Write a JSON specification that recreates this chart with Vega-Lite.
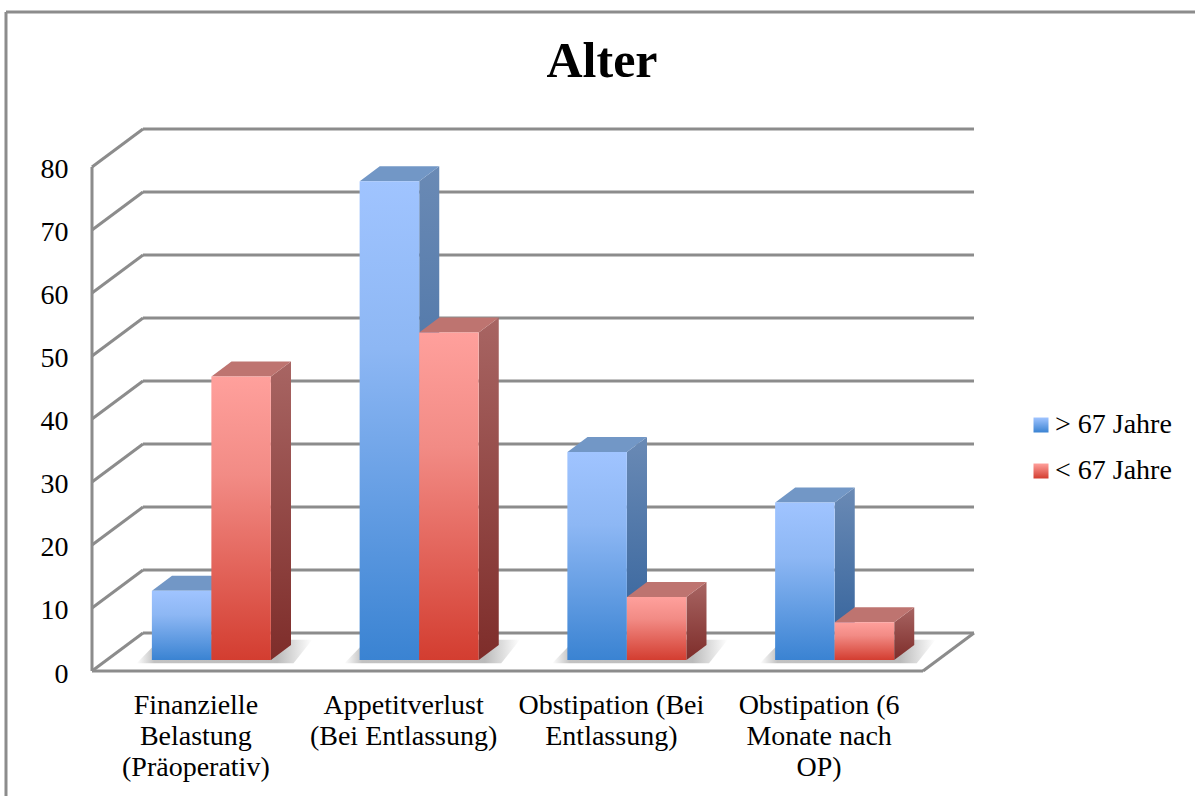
{
"$schema":"https://vega.github.io/schema/vega-lite/v6.json",
"width":882,"height":542,"autosize":{"type":"none"},
"padding":{"left":92,"top":129,"right":221,"bottom":125},
"background":"white",
"config":{"view":{"stroke":null},"font":"Liberation Serif"},
"title":{"text":"Alter","font":"Liberation Serif","fontSize":50,"fontWeight":"bold","color":"black","anchor":"middle","frame":"group","dx":69,"offset":-76},
"datasets":{
"bars":[
{"category":"Finanzielle Belastung (Präoperativ)","series":"> 67 Jahre","value":11},
{"category":"Appetitverlust (Bei Entlassung)","series":"> 67 Jahre","value":76},
{"category":"Obstipation (Bei Entlassung)","series":"> 67 Jahre","value":33},
{"category":"Obstipation (6 Monate nach OP)","series":"> 67 Jahre","value":25},
{"category":"Finanzielle Belastung (Präoperativ)","series":"< 67 Jahre","value":45},
{"category":"Appetitverlust (Bei Entlassung)","series":"< 67 Jahre","value":52},
{"category":"Obstipation (Bei Entlassung)","series":"< 67 Jahre","value":10},
{"category":"Obstipation (6 Monate nach OP)","series":"< 67 Jahre","value":6}
],
"ticks":[{"tick":0},{"tick":10},{"tick":20},{"tick":30},{"tick":40},{"tick":50},{"tick":60},{"tick":70},{"tick":80}],
"cats":[{"i":0},{"i":1},{"i":2},{"i":3}]
},
"resolve":{"scale":{"x":"independent","y":"independent","color":"independent","opacity":"independent"},"axis":{"x":"independent","y":"independent"}},
"layer":[
{"data":{"name":"ticks"},"transform":[{"calculate":"datum.tick+6.03","as":"back"}],"mark":{"type":"rule","stroke":"#8c8c8c","strokeWidth":3},
 "encoding":{"x":{"datum":0,"type":"quantitative","scale":{"domain":[0,4.2455],"nice":false,"zero":false},"axis":null},"x2":{"datum":0.2455},
 "y":{"field":"tick","type":"quantitative","scale":{"domain":[0,86.03],"nice":false,"zero":false},"axis":{"values":[0,10,20,30,40,50,60,70,80],"title":null,"domain":false,"ticks":false,"grid":false,"labelFontSize":28,"labelColor":"black","labelPadding":24,"labelOffset":3,"labelFont":"Liberation Serif"}},"y2":{"field":"back"}}},
{"layer":[
{"data":{"name":"ticks"},"transform":[{"calculate":"datum.tick+6.03","as":"back"}],"mark":{"type":"rule","stroke":"#8c8c8c","strokeWidth":3},
 "encoding":{"x":{"datum":0.2455,"type":"quantitative","scale":{"domain":[0,4.2455],"nice":false,"zero":false},"axis":null},"x2":{"datum":4.2455},
 "y":{"field":"back","type":"quantitative","scale":{"domain":[0,86.03],"nice":false,"zero":false},"axis":null}}},
{"data":{"values":[{"a":0}]},"mark":{"type":"rule","stroke":"#8c8c8c","strokeWidth":3},
 "encoding":{"x":{"datum":0,"type":"quantitative","scale":{"domain":[0,4.2455],"nice":false,"zero":false},"axis":null},
 "y":{"datum":0,"type":"quantitative","scale":{"domain":[0,86.03],"nice":false,"zero":false},"axis":null},"y2":{"datum":80}}},
{"data":{"values":[{"a":0}]},"mark":{"type":"rule","stroke":"#8c8c8c","strokeWidth":3},
 "encoding":{"x":{"datum":0,"type":"quantitative","scale":{"domain":[0,4.2455],"nice":false,"zero":false},"axis":null},"x2":{"datum":4},
 "y":{"datum":0,"type":"quantitative","scale":{"domain":[0,86.03],"nice":false,"zero":false},"axis":null}}},
{"data":{"values":[{"a":0}]},"mark":{"type":"rule","stroke":"#8c8c8c","strokeWidth":3},
 "encoding":{"x":{"datum":4,"type":"quantitative","scale":{"domain":[0,4.2455],"nice":false,"zero":false},"axis":null},"x2":{"datum":4.2455},
 "y":{"datum":0,"type":"quantitative","scale":{"domain":[0,86.03],"nice":false,"zero":false},"axis":null},"y2":{"datum":6.03}}},
{"data":{"values":[{"a":0}]},"mark":{"type":"rule","stroke":"#8c8c8c","strokeWidth":3,"clip":false},
 "encoding":{"x":{"datum":-0.414,"type":"quantitative","scale":{"domain":[0,4.2455],"nice":false,"zero":false},"axis":null},
 "y":{"datum":104.6,"type":"quantitative","scale":{"domain":[0,86.03],"nice":false,"zero":false},"axis":null},"y2":{"datum":-19.84}}},
{"data":{"values":[{"a":0}]},"mark":{"type":"rule","stroke":"#8c8c8c","strokeWidth":3,"clip":false},
 "encoding":{"x":{"datum":-0.414,"type":"quantitative","scale":{"domain":[0,4.2455],"nice":false,"zero":false},"axis":null},"x2":{"datum":5.31},
 "y":{"datum":104.6,"type":"quantitative","scale":{"domain":[0,86.03],"nice":false,"zero":false},"axis":null}}},
{"data":{"name":"cats"},"transform":[{"calculate":"[0,1]","as":"corner"},{"flatten":["corner"]},{"calculate":"datum.i+0.215+datum.corner*0.11","as":"sx"},{"calculate":"datum.i+0.97+datum.corner*0.09","as":"sx2"},{"calculate":"1.25+datum.corner*3.7","as":"sy"}],
 "mark":{"type":"area","orient":"horizontal","fill":{"gradient":"linear","x1":0,"y1":0,"x2":1,"y2":0,"stops":[{"offset":0,"color":"rgba(120,120,120,0)"},{"offset":0.1,"color":"rgba(120,120,120,0.45)"},{"offset":0.8,"color":"rgba(120,120,120,0.5)"},{"offset":1,"color":"rgba(120,120,120,0)"}]}},
 "encoding":{"y":{"field":"sy","type":"quantitative","scale":{"domain":[0,86.03],"nice":false,"zero":false},"axis":null},
 "x":{"field":"sx","type":"quantitative","scale":{"domain":[0,4.2455],"nice":false,"zero":false},"axis":null},"x2":{"field":"sx2"},"detail":{"field":"i"}}},
{"data":{"name":"bars"},"transform":[{"filter":"datum.series=='> 67 Jahre'"},{"calculate":"[0,1]","as":"corner"},{"flatten":["corner"]},
 {"calculate":"indexof(['Finanzielle Belastung (Präoperativ)','Appetitverlust (Bei Entlassung)','Obstipation (Bei Entlassung)','Obstipation (6 Monate nach OP)'],datum.category)+0.2888","as":"left"},
 {"calculate":"datum.left+0.2864+datum.corner*0.0963","as":"rx"},{"calculate":"datum.left+datum.corner*0.0963","as":"lx"},
 {"calculate":"datum.value+1.746+datum.corner*2.38","as":"ty"},{"calculate":"1.746+datum.corner*2.38","as":"by"}],
 "layer":[
 {"mark":{"type":"area","orient":"vertical","fill":{"gradient":"linear","x1":0,"y1":0,"x2":0,"y2":1,"stops":[{"offset":0,"color":"#6a8ab5"},{"offset":1,"color":"#2f5f99"}]}},
 "encoding":{"x":{"field":"rx","type":"quantitative","scale":{"domain":[0,4.2455],"nice":false,"zero":false},"axis":null},"y":{"field":"ty","type":"quantitative","scale":{"domain":[0,86.03],"nice":false,"zero":false},"axis":null},"y2":{"field":"by"},"detail":{"field":"category"}}},
 {"mark":{"type":"area","orient":"horizontal","fill":"#7297c6"},
 "encoding":{"y":{"field":"ty","type":"quantitative","scale":{"domain":[0,86.03],"nice":false,"zero":false},"axis":null},"x":{"field":"lx","type":"quantitative","scale":{"domain":[0,4.2455],"nice":false,"zero":false},"axis":null},"x2":{"field":"rx"},"detail":{"field":"category"}}}
 ]},
{"data":{"name":"bars"},"transform":[{"filter":"datum.series=='< 67 Jahre'"},{"calculate":"[0,1]","as":"corner"},{"flatten":["corner"]},
 {"calculate":"indexof(['Finanzielle Belastung (Präoperativ)','Appetitverlust (Bei Entlassung)','Obstipation (Bei Entlassung)','Obstipation (6 Monate nach OP)'],datum.category)+0.5752","as":"left"},
 {"calculate":"datum.left+0.2864+datum.corner*0.0963","as":"rx"},{"calculate":"datum.left+datum.corner*0.0963","as":"lx"},
 {"calculate":"datum.value+1.746+datum.corner*2.38","as":"ty"},{"calculate":"1.746+datum.corner*2.38","as":"by"}],
 "layer":[
 {"mark":{"type":"area","orient":"vertical","fill":{"gradient":"linear","x1":0,"y1":0,"x2":0,"y2":1,"stops":[{"offset":0,"color":"#a86563"},{"offset":1,"color":"#7e2d2a"}]}},
 "encoding":{"x":{"field":"rx","type":"quantitative","scale":{"domain":[0,4.2455],"nice":false,"zero":false},"axis":null},"y":{"field":"ty","type":"quantitative","scale":{"domain":[0,86.03],"nice":false,"zero":false},"axis":null},"y2":{"field":"by"},"detail":{"field":"category"}}},
 {"mark":{"type":"area","orient":"horizontal","fill":"#be7470"},
 "encoding":{"y":{"field":"ty","type":"quantitative","scale":{"domain":[0,86.03],"nice":false,"zero":false},"axis":null},"x":{"field":"lx","type":"quantitative","scale":{"domain":[0,4.2455],"nice":false,"zero":false},"axis":null},"x2":{"field":"rx"},"detail":{"field":"category"}}}
 ]}
]},
{"data":{"name":"bars"},"mark":{"type":"bar","clip":false},
 "encoding":{
 "x":{"field":"category","type":"nominal","sort":null,"scale":{"range":[15.5,846.5],"paddingInner":0.4272,"paddingOuter":0.2136},
  "axis":{"title":null,"domain":false,"ticks":false,"grid":false,"labelAngle":0,"labelOffset":-15.5,"labelFont":"Liberation Serif","labelFontSize":28,"labelColor":"black","labelLimit":0,"labelOverlap":false,"labelPadding":20,"labelLineHeight":31,"labelBaseline":"top",
  "labelExpr":"{'Finanzielle Belastung (Präoperativ)':['Finanzielle','Belastung','(Präoperativ)'],'Appetitverlust (Bei Entlassung)':['Appetitverlust','(Bei Entlassung)'],'Obstipation (Bei Entlassung)':['Obstipation (Bei','Entlassung)'],'Obstipation (6 Monate nach OP)':['Obstipation (6','Monate nach','OP)']}[datum.label]"}},
 "xOffset":{"field":"series","type":"nominal","sort":null,"scale":{"paddingInner":0,"paddingOuter":0}},
 "y":{"field":"value","type":"quantitative","scale":{"domain":[0,86.03],"nice":false,"zero":false,"range":[531,-11]},"axis":null},
 "y2":{"datum":0},
 "color":{
  "condition":[
   {"test":"datum.series=='> 67 Jahre'","value":{"gradient":"linear","x1":0,"y1":0,"x2":0,"y2":1,"stops":[{"offset":0,"color":"#a0c4ff"},{"offset":0.35,"color":"#8db7f4"},{"offset":1,"color":"#3a83d2"}]}},
   {"test":"datum.series=='< 67 Jahre'","value":{"gradient":"linear","x1":0,"y1":0,"x2":0,"y2":1,"stops":[{"offset":0,"color":"#ffa09c"},{"offset":0.35,"color":"#f28b85"},{"offset":1,"color":"#d33d30"}]}}
  ],
  "value":"#6ea3e8"},
 "opacity":{"field":"series","type":"nominal","sort":null,
  "scale":{"domain":["> 67 Jahre","< 67 Jahre"],"range":[1,1]},
  "legend":{"title":null,"orient":"none","legendX":935,"legendY":282,"padding":0,"symbolType":"square","symbolSize":225,"symbolStrokeWidth":0,"labelFont":"Liberation Serif","labelFontSize":28,"labelColor":"black","labelOffset":0,"rowPadding":18,"labelLimit":0,
  "encoding":{"symbols":{"fill":{"value":{"expr":"datum.value=='> 67 Jahre' ? {gradient:'linear',x1:0,y1:0,x2:0,y2:1,stops:[{offset:0,color:'#a0c4ff'},{offset:1,color:'#3a83d2'}]} : {gradient:'linear',x1:0,y1:0,x2:0,y2:1,stops:[{offset:0,color:'#ffa09c'},{offset:1,color:'#d33d30'}]}"}}}}}}
 }}
]
}
